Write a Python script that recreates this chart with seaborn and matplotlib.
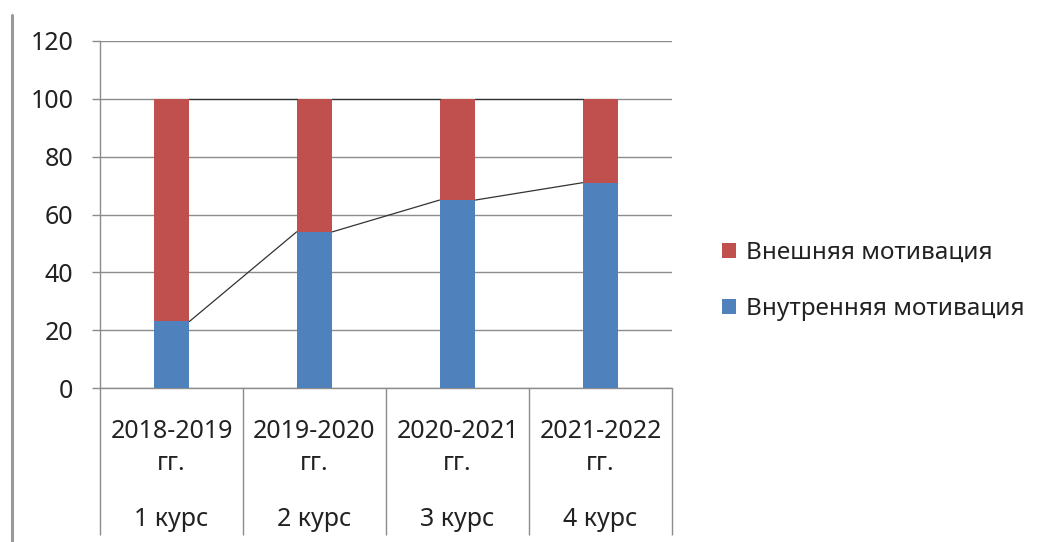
import matplotlib
matplotlib.use("Agg")
import matplotlib.pyplot as plt
import matplotlib.transforms as mtransforms
from matplotlib.lines import Line2D
from matplotlib.patches import Patch
import seaborn as sns
import pandas as pd
import numpy as np

years = ["2018-2019", "2019-2020", "2020-2021", "2021-2022"]
courses = ["1 курс", "2 курс", "3 курс", "4 курс"]
inner = [23, 54, 65, 71]
outer = [77, 46, 35, 29]
label_inner = "Внутренняя мотивация"
label_outer = "Внешняя мотивация"
yticks = [0, 20, 40, 60, 80, 100, 120]

BLUE = "#4F81BD"
RED = "#C0504D"
GRID = "#8C8C8C"

sns.set_theme(style="white")
plt.rcParams["font.family"] = ["Noto Sans", "DejaVu Sans"]

fig = plt.figure(figsize=(10.43, 5.42), dpi=100)
ax = fig.add_axes([100/1043, (542-388)/542, 572/1043, 347/542])

df = pd.DataFrame({"cat": years, "inner": inner, "outer": outer})
df["total"] = df["inner"] + df["outer"]
width = 0.25

sns.barplot(data=df, x="cat", y="total", color=RED, width=width, saturation=1,
            ax=ax, zorder=3, linewidth=0)
sns.barplot(data=df, x="cat", y="inner", color=BLUE, width=width, saturation=1,
            ax=ax, zorder=4, linewidth=0)

# series lines
for tops in (df["inner"].values, df["total"].values):
    for i in range(len(tops) - 1):
        ax.plot([i + width/2, i + 1 - width/2], [tops[i], tops[i+1]],
                color="#333333", lw=0.9, zorder=5)

ax.set_xlim(-0.5, len(years) - 0.5)
ax.set_ylim(0, 120)
ax.set_yticks(yticks)
ax.set_yticklabels([str(v) for v in yticks], fontsize=18, color="#222222")
ax.set_xlabel("")
ax.set_ylabel("")
ax.set_xticks([])
ax.set_xticks(np.arange(-0.5, len(years)), minor=True)
ax.tick_params(axis="x", which="minor", length=106, width=1, color=GRID,
               direction="out", bottom=True, labelbottom=False)
ax.tick_params(axis="y", which="major", length=6, width=1, color=GRID,
               direction="out", pad=13, left=True)
ax.yaxis.grid(True, color=GRID, lw=1)
ax.set_axisbelow(True)
for s in ["top", "right"]:
    ax.spines[s].set_visible(False)
for s in ["left", "bottom"]:
    ax.spines[s].set_color(GRID)
    ax.spines[s].set_linewidth(1)

trans = mtransforms.blended_transform_factory(ax.transData, ax.transAxes)
for i, (yr, c) in enumerate(zip(years, courses)):
    ax.text(i, -0.124, yr, transform=trans, ha="center", va="center",
            fontsize=18, color="#222222")
    ax.text(i, -0.219, "гг.", transform=trans, ha="center", va="center",
            fontsize=18, color="#222222")
    ax.text(i, -0.380, c, transform=trans, ha="center", va="center",
            fontsize=18, color="#222222")

# left border line
fig.add_artist(Line2D([12/1043, 12/1043], [0, (542-15)/542],
                      transform=fig.transFigure, color="#9A9A9A", lw=2.2))

handles = [Patch(facecolor=RED, edgecolor="none"),
           Patch(facecolor=BLUE, edgecolor="none")]
fig.legend(handles, [label_outer, label_inner], loc="center left",
           bbox_to_anchor=(700/1043, (542-281)/542), frameon=False,
           fontsize=17.5, handlelength=0.6, handleheight=0.6, handletextpad=0.4,
           labelspacing=1.3, labelcolor="#222222")

fig.savefig("out.png", dpi=100)
